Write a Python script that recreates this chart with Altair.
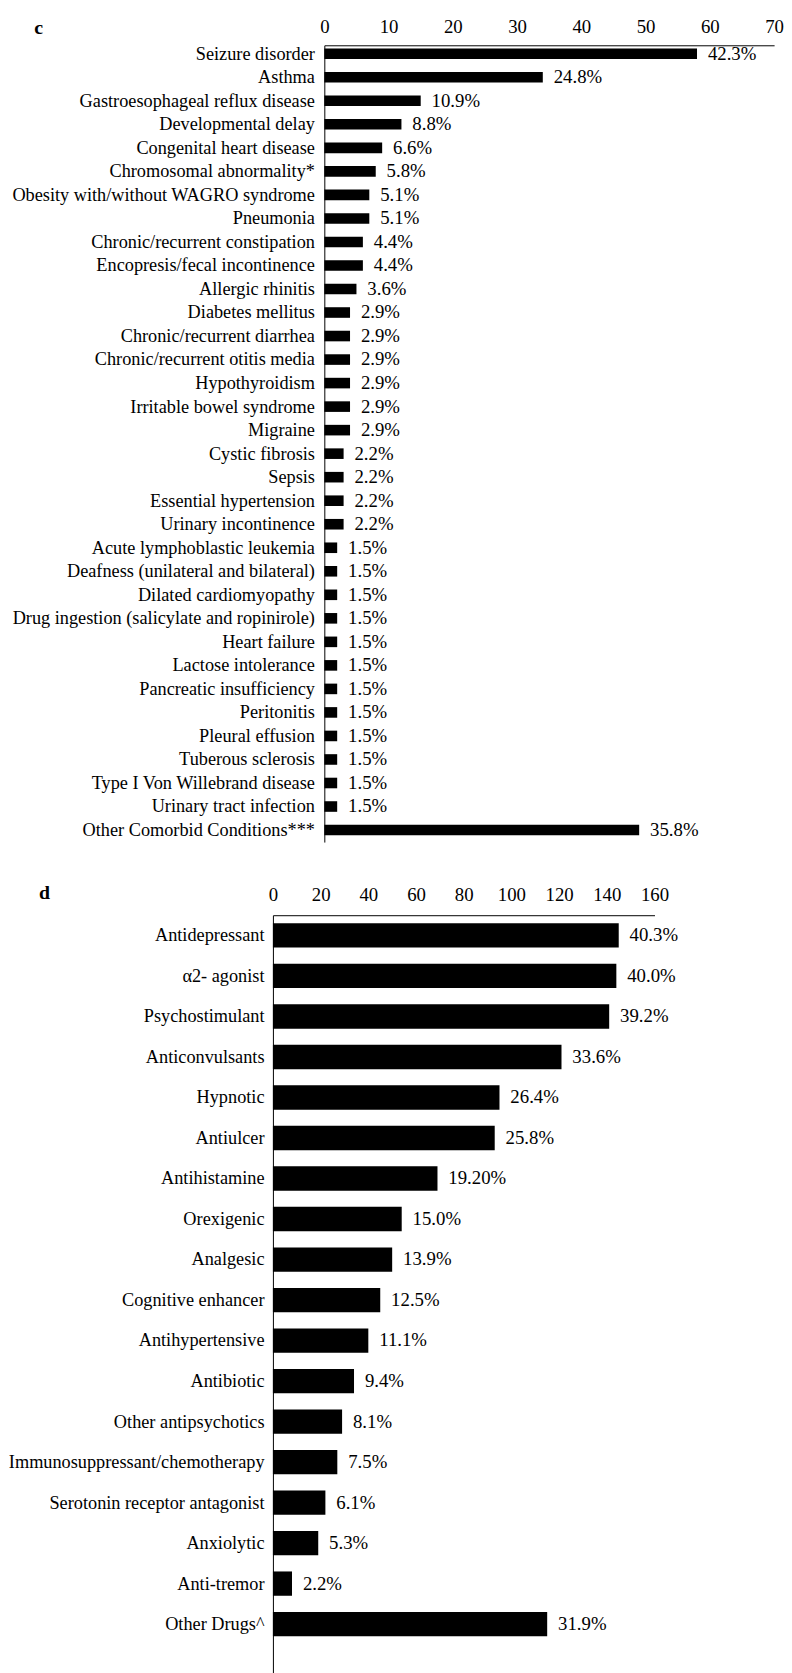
import altair as alt
import pandas as pd

FONT = "Liberation Serif"

# Panel c: comorbid conditions (counts, n = 137)
c_conditions = [
    "Seizure disorder", "Asthma", "Gastroesophageal reflux disease", "Developmental delay",
    "Congenital heart disease", "Chromosomal abnormality*", "Obesity with/without WAGRO syndrome",
    "Pneumonia", "Chronic/recurrent constipation", "Encopresis/fecal incontinence",
    "Allergic rhinitis", "Diabetes mellitus", "Chronic/recurrent diarrhea",
    "Chronic/recurrent otitis media", "Hypothyroidism ", "Irritable bowel syndrome", "Migraine",
    "Cystic fibrosis", "Sepsis ", "Essential hypertension", "Urinary incontinence",
    "Acute lymphoblastic leukemia", "Deafness (unilateral and bilateral)",
    "Dilated cardiomyopathy", "Drug ingestion (salicylate and ropinirole)", "Heart failure",
    "Lactose intolerance ", "Pancreatic insufficiency", "Peritonitis", "Pleural effusion ",
    "Tuberous sclerosis", "Type I Von Willebrand disease ", "Urinary tract infection",
    "Other Comorbid Conditions***",
]
c_counts = [58, 34, 15, 12, 9, 8, 7, 7, 6, 6, 5, 4, 4, 4, 4, 4, 4, 3, 3, 3, 3,
            2, 2, 2, 2, 2, 2, 2, 2, 2, 2, 2, 2, 49]
c_labels = ["42.3%", "24.8%", "10.9%", "8.8%", "6.6%", "5.8%", "5.1%", "5.1%", "4.4%",
            "4.4%", "3.6%", "2.9%", "2.9%", "2.9%", "2.9%", "2.9%", "2.9%", "2.2%", "2.2%",
            "2.2%", "2.2%", "1.5%", "1.5%", "1.5%", "1.5%", "1.5%", "1.5%", "1.5%", "1.5%",
            "1.5%", "1.5%", "1.5%", "1.5%", "35.8%"]
c_ticks = [0, 10, 20, 30, 40, 50, 60, 70]

# Panel d: drug classes (counts, n = 360)
d_drugs = [
    "Antidepressant", "\u03b12- agonist", "Psychostimulant ", "Anticonvulsants", "Hypnotic",
    "Antiulcer", "Antihistamine", "Orexigenic", "Analgesic", "Cognitive enhancer",
    "Antihypertensive", "Antibiotic", "Other antipsychotics", "Immunosuppressant/chemotherapy",
    "Serotonin receptor antagonist", "Anxiolytic", "Anti-tremor", "Other Drugs^",
]
d_counts = [145, 144, 141, 121, 95, 93, 69, 54, 50, 45, 40, 34, 29, 27, 22, 19, 8, 115]
d_labels = ["40.3%", "40.0%", "39.2%", "33.6%", "26.4%", "25.8%", "19.20%", "15.0%",
            "13.9%", "12.5%", "11.1%", "9.4%", "8.1%", "7.5%", "6.1%", "5.3%", "2.2%", "31.9%"]
d_ticks = [0, 20, 40, 60, 80, 100, 120, 140, 160]

FS_Y = 18.5   # category labels
FS = 19       # tick labels and value labels
SHIFT = 52    # panel c's axis sits this far right of panel d's


def panel(cats, counts, labels, ticks, letter, width, height, yscale, xrange, y_offset,
          lab_pad, x_lab_pad, letter_x, letter_y):
    df = pd.DataFrame({"cat": cats, "n": counts, "lab": labels})
    y = alt.Y("cat:N", sort=cats, scale=yscale,
              axis=alt.Axis(title=None, ticks=False, labelPadding=lab_pad, labelFontSize=FS_Y,
                            labelFont=FONT, labelColor="black", domainColor="black",
                            domainWidth=1, labelLimit=500, offset=y_offset))
    if xrange is not None:
        xs = alt.Scale(domain=[ticks[0], ticks[-1]], nice=False, range=xrange)
    else:
        xs = alt.Scale(domain=[ticks[0], ticks[-1]], nice=False)
    x = alt.X("n:Q", scale=xs,
              axis=alt.Axis(orient="top", title=None, values=ticks, grid=False, ticks=False,
                            tickSize=0, labelPadding=x_lab_pad, labelFontSize=FS,
                            labelFont=FONT, labelColor="black", domainColor="black",
                            domainWidth=1, labelFlush=False))
    bars = alt.Chart(df).mark_bar(color="black").encode(x=x, y=y)
    text = alt.Chart(df).mark_text(align="left", baseline="middle", dx=11, font=FONT,
                                   fontSize=FS, color="black").encode(
        x="n:Q", y=alt.Y("cat:N", sort=cats), text="lab:N")
    ldf = pd.DataFrame({"t": [letter]})
    let = alt.Chart(ldf).mark_text(font=FONT, fontSize=20, fontWeight="bold", color="black",
                                   align="center", baseline="middle").encode(
        x=alt.value(letter_x), y=alt.value(letter_y), text="t:N")
    return alt.layer(bars, text, let).properties(width=width, height=height)


c_scale = alt.Scale(paddingInner=0.55, paddingOuter=0.21, align=0.32)
d_scale = alt.Scale(paddingInner=0.4, paddingOuter=0.595, align=0.168)

pc = panel(c_conditions, c_counts, c_labels, c_ticks, "c", 455 + SHIFT, 806, c_scale,
           [SHIFT, 455 + SHIFT], -SHIFT, 10, 9, -237, -17)
pd_ = panel(d_drugs, d_counts, d_labels, d_ticks, "d", 386, 770, d_scale, None, 0, 9, 11,
            -231, -22)

chart = alt.vconcat(pc, pd_, spacing=42).properties(
    padding={"left": 0, "top": 0, "right": 0, "bottom": 0}
).configure_view(stroke=None).resolve_scale(x="independent", y="independent")

chart.save("out.html", embed_options={"renderer": "svg", "actions": False})
